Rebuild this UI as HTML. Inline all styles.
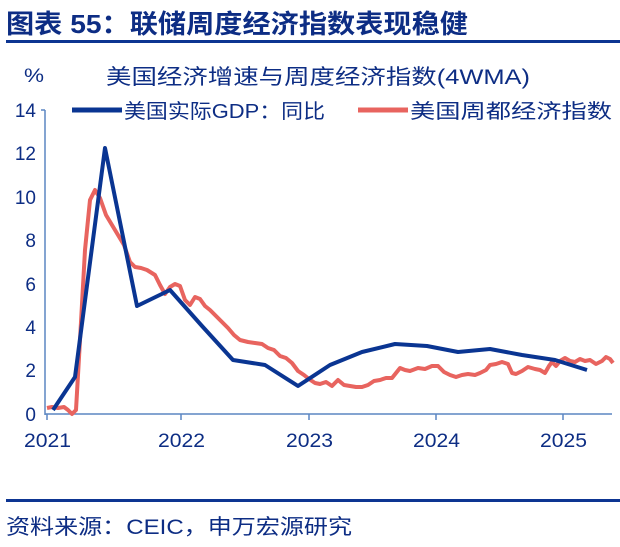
<!DOCTYPE html>
<html><head><meta charset="utf-8"><style>
body{margin:0;background:#fff;width:620px;height:542px;overflow:hidden;font-family:"Liberation Sans","Noto Sans CJK SC",sans-serif}
</style></head><body>
<svg width="620" height="542" xmlns="http://www.w3.org/2000/svg" font-family="Liberation Sans, Noto Sans CJK SC, sans-serif">
<text x="6" y="33" font-size="26" font-weight="bold" fill="#0d2d84" textLength="462" lengthAdjust="spacingAndGlyphs">图表 55：联储周度经济指数表现稳健</text>
<rect x="6" y="40" width="614" height="3" fill="#0d3592"/>
<text x="24" y="82" font-size="19" fill="#0d2d84" textLength="20" lengthAdjust="spacingAndGlyphs">%</text>
<text x="106" y="84" font-size="21" fill="#0d2d84" textLength="424" lengthAdjust="spacingAndGlyphs">美国经济增速与周度经济指数(4WMA)</text>
<g font-size="19" fill="#0d2d84" text-anchor="end">
<text x="36" y="117">14</text><text x="36" y="160">12</text><text x="36" y="204">10</text>
<text x="36" y="247">8</text><text x="36" y="291">6</text><text x="36" y="334">4</text>
<text x="36" y="377">2</text><text x="36" y="421">0</text>
</g>
<line x1="45" y1="110" x2="45" y2="415" stroke="#5b86c2" stroke-width="1.5"/>
<line x1="41" y1="110" x2="45" y2="110" stroke="#5b86c2" stroke-width="1.5"/>
<line x1="45" y1="414" x2="612" y2="414" stroke="#5b86c2" stroke-width="1.5"/>
<g stroke="#5b86c2" stroke-width="1.5">
<line x1="47" y1="414" x2="47" y2="420"/><line x1="181" y1="414" x2="181" y2="420"/><line x1="309" y1="414" x2="309" y2="420"/><line x1="436" y1="414" x2="436" y2="420"/><line x1="563" y1="414" x2="563" y2="420"/>
</g>
<g font-size="19" fill="#0d2d84">
<text x="24" y="447" textLength="47" lengthAdjust="spacingAndGlyphs">2021</text><text x="158" y="447" textLength="47" lengthAdjust="spacingAndGlyphs">2022</text><text x="286" y="447" textLength="47" lengthAdjust="spacingAndGlyphs">2023</text><text x="413" y="447" textLength="47" lengthAdjust="spacingAndGlyphs">2024</text><text x="540" y="447" textLength="47" lengthAdjust="spacingAndGlyphs">2025</text>
</g>
<line x1="72" y1="110" x2="122" y2="110" stroke="#0a3592" stroke-width="5"/>
<text x="124" y="118" font-size="20" fill="#0d2d84" textLength="201" lengthAdjust="spacingAndGlyphs">美国实际GDP：同比</text>
<line x1="358" y1="110" x2="408" y2="110" stroke="#e8645f" stroke-width="5"/>
<text x="410" y="118" font-size="20" fill="#0d2d84" textLength="202" lengthAdjust="spacingAndGlyphs">美国周都经济指数</text>
<polyline fill="none" stroke="#e8645f" stroke-width="4" stroke-linejoin="round" points="47,408 52,407 58,408 64,407 68,410 72,414 76,410 80,340 85,250 90,200 95,190 100,198 106,215 112,225 118,235 124,245 130,262 135,267 141,268 147,270 155,275 160,285 165,294 170,287 175,284 180,286 185,300 190,305 195,297 200,299 205,306 210,310 216,316 222,322 228,328 234,335 240,340 248,342 255,343 262,344 268,348 274,350 280,356 286,358 292,363 298,371 304,375 309,379 315,383 320,384 326,382 332,386 338,380 344,385 350,386 356,387 362,387 368,385 374,381 380,380 386,378 392,378 396,373 400,368 405,370 410,371 418,368 425,369 432,366 438,366 444,372 450,375 456,377 462,375 468,374 475,375 480,373 486,370 490,365 496,364 502,362 508,364 512,373 516,374 522,371 528,367 535,369 540,370 545,373 549,366 552,362 556,366 560,361 565,358 570,361 575,362 580,359 585,361 590,360 596,364 602,361 606,357 610,359 613,363"/>
<polyline fill="none" stroke="#0a3592" stroke-width="4" stroke-linejoin="round" points="53,410 75,377 105,148 137,306 170,290 202,326 233,360 265,365 298,386 330,365 362,352 395,344 427,346 458,352 490,349 522,355 555,360 587,370"/>
<rect x="6" y="499" width="614" height="3" fill="#0d3592"/>
<text x="6" y="534" font-size="21" fill="#0d2d84" textLength="346" lengthAdjust="spacingAndGlyphs">资料来源：CEIC，申万宏源研究</text>
</svg>
</body></html>
